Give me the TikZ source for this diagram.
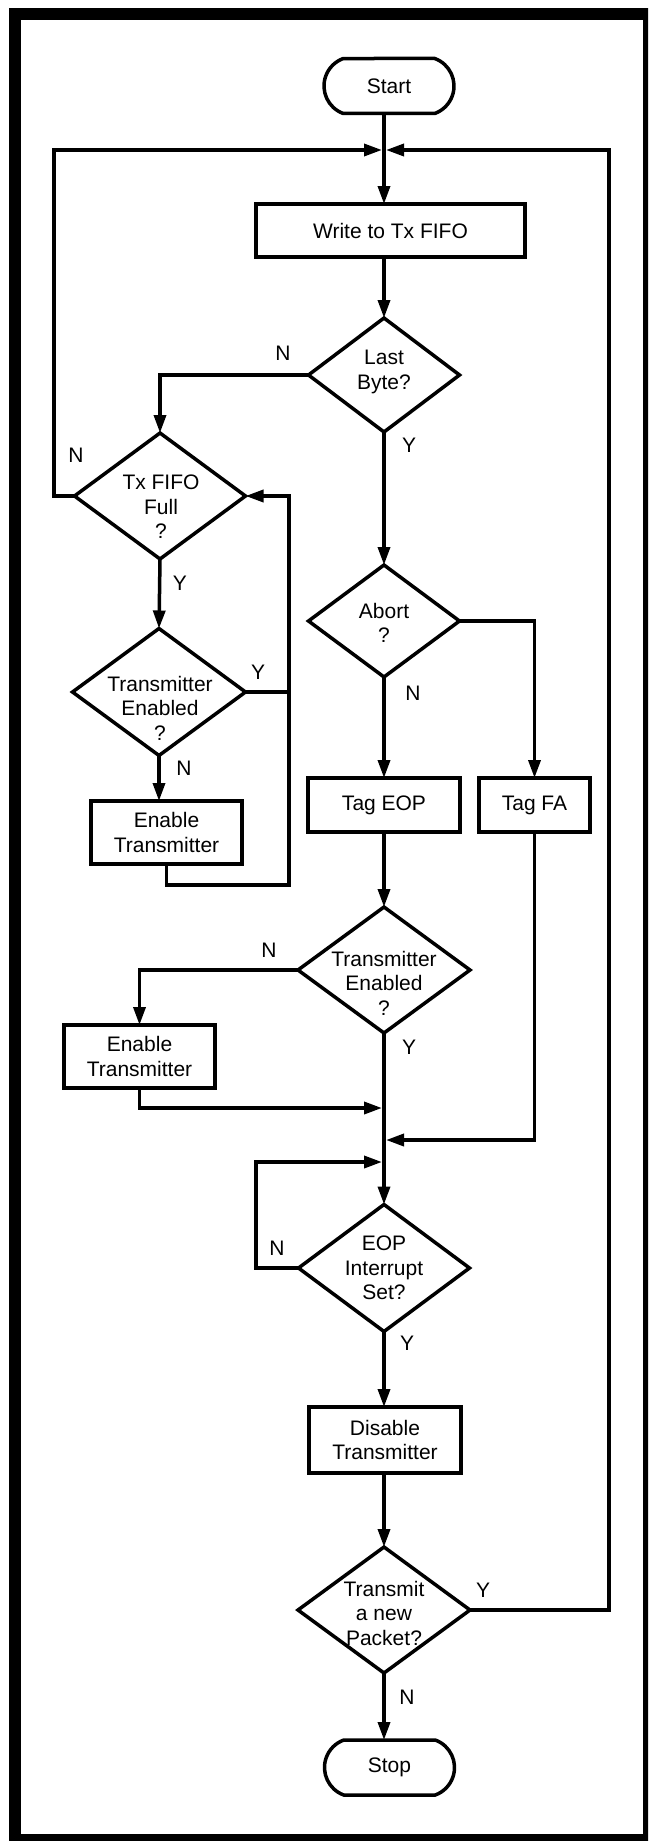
\documentclass[tikz,border=0pt]{standalone}
\usepackage{fontspec}
\setmainfont{Liberation Sans}
\usetikzlibrary{shapes.geometric,shapes.misc,arrows.meta}
\begin{document}
\begin{tikzpicture}[x=1pt,y=-1pt,
  every node/.style={font=\fontsize{21pt}{24.5pt}\selectfont},
  ln/.style={line width=3.5pt},
  arr/.style={line width=3.5pt,-{Triangle[length=18pt,width=12pt]}},
  procbox/.style={draw,line width=3.5pt,rectangle,inner sep=0pt,outer sep=0pt,align=center},
  dec/.style={draw,line width=3.5pt,diamond,inner sep=0pt,outer sep=0pt},
  term/.style={draw,line width=3.5pt,rounded rectangle,rounded rectangle arc length=140,inner sep=0pt,outer sep=0pt,minimum width=130pt,minimum height=55pt},
  txt/.style={align=center,inner sep=0pt},
  lbl/.style={inner sep=0pt}]
\useasboundingbox (0,0) rectangle (648,1841);
\begin{scope}
\clip (0,0) rectangle (648,1841);
\draw[line width=12pt] (15,14.5) rectangle (649,1840);
\end{scope}

% junction coordinates
\coordinate (j1) at (384,150);
\coordinate (j2) at (384,1108);
\coordinate (j3) at (384,1140);
\coordinate (j4) at (384,1162);

% nodes
\node[term] (start) at (389,86) {Start};
\node[procbox,minimum width=269pt,minimum height=53pt] (wtx) at (390.5,230.5) {Write to Tx FIFO};
\node[dec,minimum width=151pt,minimum height=114pt] (lb) at (384,375) {};
\node[txt] (lbt) at (384,372) {Last\\Byte?};
\node[dec,minimum width=171pt,minimum height=126pt] (tf) at (160,496) {};
\node[txt] (tft) at (161,507) {Tx FIFO\\Full\\?};
\node[dec,minimum width=173pt,minimum height=127pt] (te1) at (159,692) {};
\node[txt] (te1t) at (160,708) {Transmitter\\Enabled\\?};
\node[procbox,minimum width=151pt,minimum height=63pt] (en1) at (166.5,832.5) {Enable\\Transmitter};
\node[dec,minimum width=151pt,minimum height=112pt] (ab) at (384,621) {};
\node[txt] (abt) at (384,623) {Abort\\?};
\node[procbox,minimum width=152pt,minimum height=54pt] (teop) at (384,805) {Tag EOP};
\node[procbox,minimum width=111pt,minimum height=54pt] (tfa) at (534.5,805) {Tag FA};
\node[dec,minimum width=172pt,minimum height=126pt] (te2) at (384,970) {};
\node[txt] (te2t) at (384,983) {Transmitter\\Enabled\\?};
\node[procbox,minimum width=151pt,minimum height=63pt] (en2) at (139.5,1056.5) {Enable\\Transmitter};
\node[dec,minimum width=171pt,minimum height=127pt] (eop) at (384,1268) {};
\node[txt] (eopt) at (384,1268) {EOP\\Interrupt\\Set?};
\node[procbox,minimum width=152pt,minimum height=66pt] (dt) at (385,1440) {Disable\\Transmitter};
\node[dec,minimum width=172pt,minimum height=126pt] (tnp) at (384,1610) {};
\node[txt] (tnpt) at (384,1613) {Transmit\\a new\\Packet?};
\node[term] (stop) at (389.5,1767.5) {Stop};

% labels
\node[lbl] (l1) at (283,353) {N};
\node[lbl] (l2) at (76,455) {N};
\node[lbl] (l3) at (409,445) {Y};
\node[lbl] (l4) at (180,583) {Y};
\node[lbl] (l5) at (258,672) {Y};
\node[lbl] (l6) at (184,768) {N};
\node[lbl] (l7) at (413,693) {N};
\node[lbl] (l8) at (269,950) {N};
\node[lbl] (l9) at (409,1047) {Y};
\node[lbl] (l10) at (277,1248) {N};
\node[lbl] (l11) at (407,1343) {Y};
\node[lbl] (l12) at (483,1590) {Y};
\node[lbl] (l13) at (407,1697) {N};

% connectors
\draw[arr] (start.south -| j1) -- (wtx.north -| j1);
\draw[arr] (wtx.south -| j1) -- (lb.north);
\draw[arr] (lb.west) -| (tf.north);
\draw[arr,shorten >=2pt] (tf.west) -- (54,496) -- (54,150) -- (j1);
\draw[arr,shorten >=2pt] (tnp.east) -- (609,1610) -- (609,150) -- (j1);
\draw[arr] (lb.south) -- (ab.north);
\draw[arr] (tf.south) -- (te1.north);
\draw[ln] (te1.east) -- (289,692);
\draw[arr] (te1.south) -- (te1.south |- en1.north);
\draw[arr] (en1.south) -- (166.5,885) -- (289,885) -- (289,496) -- (tf.east);
\draw[arr] (ab.east) -| (tfa.north);
\draw[arr] (ab.south) -- (teop.north);
\draw[arr] (teop.south) -- (te2.north);
\draw[arr] (te2.west) -| (en2.north);
\draw[arr,shorten >=2pt] (en2.south) |- (j2);
\draw[arr,shorten >=2pt] (tfa.south) |- (j3);
\draw[arr] (te2.south) -- (eop.north);
\draw[arr,shorten >=2pt] (eop.west) -- (256,1268) -- (256,1162) -- (j4);
\draw[arr] (eop.south) -- (dt.north -| eop.south);
\draw[arr] (dt.south -| tnp.north) -- (tnp.north);
\draw[arr] (tnp.south) -- (stop.north -| tnp.south);
\end{tikzpicture}
\end{document}
